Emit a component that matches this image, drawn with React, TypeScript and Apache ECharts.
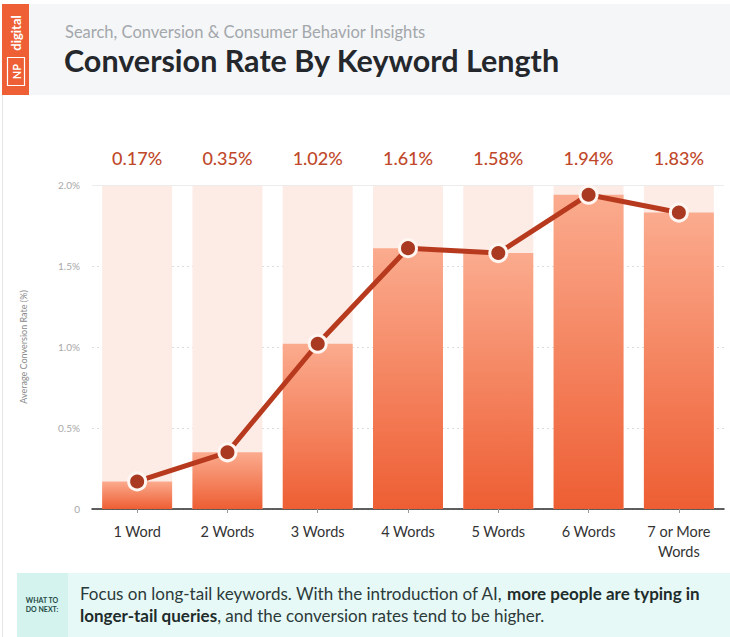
import React, { useEffect, useRef } from "react";
import * as echarts from "echarts";

const categories = ["1 Word", "2 Words", "3 Words", "4 Words", "5 Words", "6 Words", "7 or More\nWords"];
const rates = [0.17, 0.35, 1.02, 1.61, 1.58, 1.94, 1.83];
const maxRate = 2.0;

const FONT = "Lato, 'Noto Sans', sans-serif";

export default function App() {
  const ref = useRef<HTMLDivElement>(null);
  useEffect(() => {
    if (!ref.current) return;
    const chart = echarts.init(ref.current, undefined, { renderer: "svg" });
    const option: any = {
      animation: false,
      backgroundColor: "#ffffff",
      textStyle: { fontFamily: FONT },
      title: [
        {
          text: "Search, Conversion & Consumer Behavior Insights",
          left: 60,
          top: 18,
          textStyle: { fontFamily: FONT, fontSize: 16.5, fontWeight: "normal", color: "#a3a7ab" },
        },
        {
          text: "Conversion Rate By Keyword Length",
          left: 59,
          top: 39,
          textStyle: { fontFamily: FONT, fontSize: 30.5, fontWeight: "bold", color: "#24272b" },
        },
      ],
      graphic: [
        { type: "rect", z: -10, shape: { x: 29, y: 4, width: 701, height: 91 }, style: { fill: "#f5f6f8" } },
        { type: "rect", z: -10, shape: { x: 2, y: 4, width: 27, height: 91 }, style: { fill: "#ee5f35" } },
        { type: "line", z: -10, shape: { x1: 2.5, y1: 95, x2: 2.5, y2: 637 }, style: { stroke: "#e6e6e6", lineWidth: 1 } },
        {
          type: "text",
          x: 16,
          y: 33,
          rotation: Math.PI / 2,
          style: {
            text: "digital",
            fill: "#ffffff",
            font: `bold 13px ${FONT}`,
            align: "center",
            verticalAlign: "middle",
          },
        },
        {
          type: "rect",
          shape: { x: 7.5, y: 57.5, width: 17, height: 28 },
          style: { fill: "none", stroke: "#ffffff", lineWidth: 1.2 },
        },
        {
          type: "text",
          x: 16,
          y: 71.5,
          rotation: Math.PI / 2,
          style: {
            text: "NP",
            fill: "#ffffff",
            font: `bold 11px ${FONT}`,
            align: "center",
            verticalAlign: "middle",
          },
        },
        { type: "rect", z: -10, shape: { x: 17, y: 573, width: 713, height: 64 }, style: { fill: "#e7f9f6" } },
        { type: "rect", z: -10, shape: { x: 17, y: 573, width: 51, height: 64 }, style: { fill: "#d4f3ee" } },
        {
          type: "text",
          x: 42,
          y: 604,
          style: {
            text: "WHAT TO\nDO NEXT:",
            fill: "#1f4a44",
            font: `bold 7px ${FONT}`,
            align: "center",
            verticalAlign: "middle",
            lineHeight: 9,
          },
        },
        {
          type: "text",
          x: 80,
          y: 604,
          style: {
            text:
              "Focus on long-tail keywords. With the introduction of AI, {b|more people are typing in}\n{b|longer-tail queries}, and the conversion rates tend to be higher.",
            fill: "#2c3a3a",
            font: `17px ${FONT}`,
            verticalAlign: "middle",
            lineHeight: 22,
            rich: {
              b: { fontWeight: "bold", fontSize: 17, fontFamily: FONT, fill: "#1e2c2c", lineHeight: 22 },
            },
          },
        },
      ],
      grid: { left: 92, right: 6, top: 185, bottom: 128, containLabel: false },
      xAxis: {
        type: "category",
        data: categories,
        axisLine: { show: true, lineStyle: { color: "#2b2b2b", width: 1.5 } },
        axisTick: { show: true, alignWithLabel: true, length: 4, lineStyle: { color: "#999" } },
        axisLabel: { color: "#333", fontSize: 14.5, fontFamily: FONT, margin: 12, lineHeight: 20, interval: 0 },
      },
      yAxis: {
        type: "value",
        min: 0,
        max: maxRate,
        interval: 0.5,
        name: "Average Conversion Rate (%)",
        nameLocation: "middle",
        nameGap: 64,
        nameTextStyle: { color: "#8a8a8a", fontSize: 9, fontFamily: FONT },
        axisLine: { show: false },
        axisTick: { show: false },
        axisLabel: {
          color: "#a8a8a8",
          fontSize: 10,
          fontFamily: FONT,
          margin: 12,
          formatter: (v: number) => (v === 0 ? "0" : v.toFixed(1) + "%"),
        },
        splitLine: { show: true, lineStyle: { color: "#dcdcdc", type: [2, 3], width: 1 } },
      },
      series: [
        {
          type: "bar",
          data: categories.map(() => maxRate),
          barWidth: "77.5%",
          barGap: "-100%",
          itemStyle: { color: "#fdece6" },
          silent: true,
          z: 1,
          label: {
            show: true,
            position: "top",
            distance: 18,
            formatter: (p: any) => rates[p.dataIndex].toFixed(2) + "%",
            color: "#c0482a",
            fontSize: 18,
            fontFamily: FONT,
            fontWeight: 500,
          },
          markLine: {
            silent: true,
            symbol: "none",
            label: { show: false },
            lineStyle: { color: "#ececec", type: "solid", width: 1 },
            data: [{ yAxis: maxRate }],
          },
        },
        {
          type: "bar",
          data: rates,
          barWidth: "77.5%",
          z: 2,
          itemStyle: {
            color: new echarts.graphic.LinearGradient(0, 0, 0, 1, [
              { offset: 0, color: "#fbab8e" },
              { offset: 1, color: "#ee5e33" },
            ]),
          },
        },
        {
          type: "line",
          data: rates,
          z: 5,
          symbol: "circle",
          symbolSize: 17,
          lineStyle: { color: "#b83a1e", width: 5 },
          itemStyle: { color: "#a93a21", borderColor: "#fff6f2", borderWidth: 3 },
        },
      ],
    };
    chart.setOption(option);
    return () => chart.dispose();
  }, []);
  return (
    <div
      ref={ref}
      style={{ position: "absolute", left: 0, top: 0, width: 730, height: 637 }}
    />
  );
}
